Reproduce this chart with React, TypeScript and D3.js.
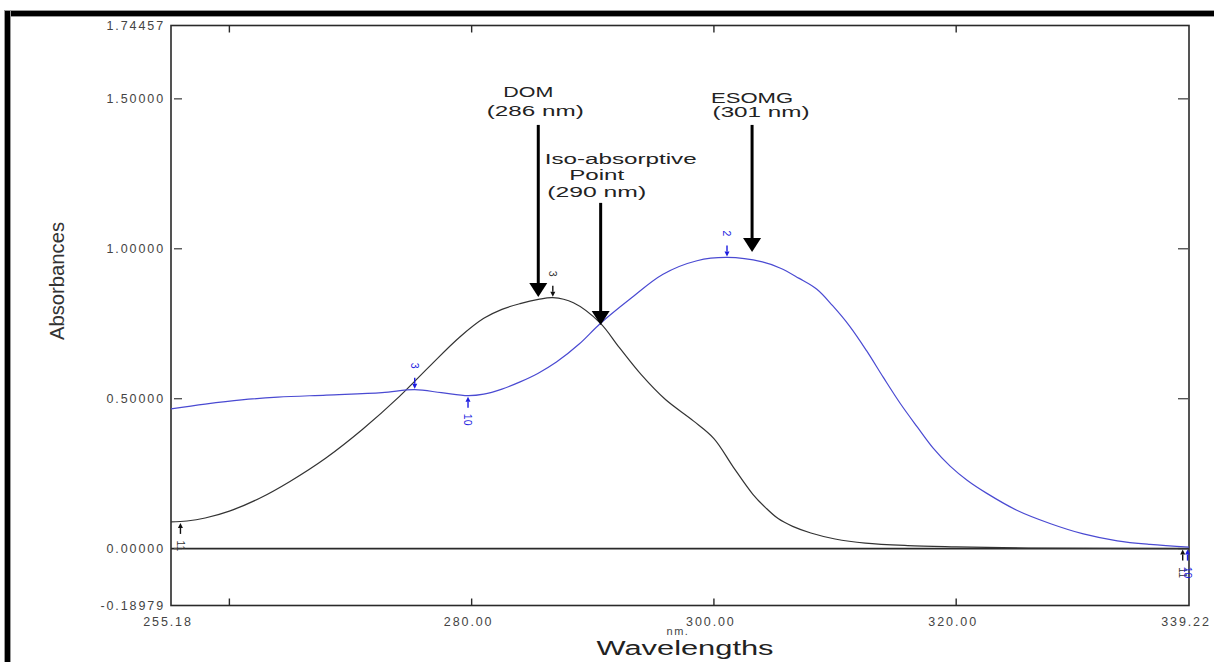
import React from "react";
import * as d3 from "d3";

const W = 1214;
const H = 662;

// DOM spectrum (black)
const domWl = [255.18, 256.5, 258, 260, 262.5, 265, 268, 271, 274, 276.5, 279, 281, 282.5, 284, 285.5, 286.7, 288.4, 290.6, 292.2, 294, 296, 298.3, 300, 301.6, 303.2, 304.3, 305.3, 306.5, 308, 310, 312.5, 316, 320, 326, 339.22];
const domAbs = [0.089, 0.092, 0.102, 0.125, 0.168, 0.224, 0.303, 0.398, 0.506, 0.607, 0.705, 0.768, 0.798, 0.817, 0.831, 0.837, 0.82, 0.753, 0.67, 0.58, 0.497, 0.426, 0.367, 0.272, 0.182, 0.135, 0.1, 0.074, 0.052, 0.032, 0.018, 0.01, 0.006, 0.002, 0.0];

// ESOMG spectrum (blue)
const esoWl = [255.18, 258, 261, 264, 268, 272.6, 275.3, 277.5, 279.7, 281, 282.5, 284, 285.5, 287, 288.9, 290.6, 293.1, 295.8, 298.6, 301.1, 304, 305.5, 307, 308.5, 309.8, 311.2, 312.6, 314, 315.4, 316.8, 318.1, 319.5, 320.9, 322.5, 325, 327.8, 330.5, 333.3, 336, 339.22];
const esoAbs = [0.466, 0.482, 0.496, 0.505, 0.512, 0.52, 0.53, 0.52, 0.51, 0.515, 0.532, 0.556, 0.585, 0.622, 0.683, 0.75, 0.833, 0.915, 0.96, 0.971, 0.956, 0.935, 0.902, 0.865, 0.81, 0.742, 0.66, 0.57, 0.483, 0.405, 0.335, 0.275, 0.228, 0.185, 0.128, 0.083, 0.049, 0.026, 0.014, 0.005];

// Axes
const xDomain = [255.18, 339.22];
const yDomain = [-0.18979, 1.74457];
const xTickValues = [260, 280, 300, 320];
const xLabelValues = [255.18, 280, 300, 320, 339.22];
const yTickValues = [0, 0.5, 1.0, 1.5];
const yLabelValues = [1.74457, 1.5, 1.0, 0.5, 0, -0.18979];

// Annotations (big arrows)
const annoWl = [285.5, 290.65, 303.15];
const annoTop = [1.413, 1.153, 1.413];
const annoTip = [0.839, 0.746, 0.989];
const annoLines = [["DOM", "(286 nm)"], ["Iso-absorptive", "Point", "(290 nm)"], ["ESOMG", "(301 nm)"]];

// Peak pick markers
const markWl = [286.7, 301.08, 275.3, 279.7, 255.96, 338.7, 339.1];
const markAbs = [0.837, 0.971, 0.53, 0.51, 0.089, 0.0, 0.0];
const markLabel = ["3", "2", "3", "10", "11", "11", "10"];
const markSeries = ["dom", "eso", "eso", "eso", "dom", "dom", "eso"];
const markDir = ["down", "down", "down", "up", "up", "up", "up"];

const ML = 171, MR = 1189, MT = 25.5, MB = 605.5;
const FONT = "'Liberation Sans', Arial, sans-serif";
const BLUE = "#4a4ad2";
const MARK_BLUE = "#1c1ce0";

export default function App() {
  const x = d3.scaleLinear().domain(xDomain).range([ML, MR]);
  const y = d3.scaleLinear().domain(yDomain).range([MB, MT]);

  const line = d3
    .line<[number, number]>()
    .x((d) => x(d[0]))
    .y((d) => y(d[1]))
    .curve(d3.curveCatmullRom.alpha(0.5));

  const domPath = line(domWl.map((w, i) => [w, domAbs[i]] as [number, number])) || "";
  const esoPath = line(esoWl.map((w, i) => [w, esoAbs[i]] as [number, number])) || "";

  // text layout per annotation (offsets relative to arrow top)
  const annoTextLayout = [
    [{ dx: -10, dy: -28, len: 50 }, { dx: -3, dy: -9, len: 97 }],
    [{ dx: 20, dy: -39, len: 152 }, { dx: -4, dy: -23, len: 55 }, { dx: -4, dy: -6, len: 99 }],
    [{ dx: 0, dy: -22, len: 82 }, { dx: 9, dy: -8, len: 97 }],
  ];

  return (
    <svg
      width={W}
      height={H}
      style={{ position: "absolute", left: 0, top: 0, background: "#fff" }}
      fontFamily={FONT}
    >
      <rect x={0} y={0} width={W} height={H} fill="#fff" />
      {/* outer heavy frame */}
      <rect x={4} y={10} width={W - 4} height={7} fill="#9a9a9a" />
      <rect x={5} y={11} width={W - 5} height={5} fill="#000" />
      <rect x={4} y={10} width={7} height={H - 10} fill="#9a9a9a" />
      <rect x={5} y={11} width={5} height={H - 11} fill="#000" />

      {/* plot frame */}
      <rect x={ML} y={MT} width={MR - ML} height={MB - MT} fill="none" stroke="#2a2a2a" strokeWidth={1.6} />
      {/* zero line */}
      <line x1={ML} x2={MR} y1={y(0)} y2={y(0)} stroke="#2a2a2a" strokeWidth={1.6} />

      {/* x ticks (inward, top and bottom) */}
      {xTickValues.map((t) => (
        <g key={"xt" + t} stroke="#2a2a2a" strokeWidth={1.4}>
          <line x1={x(t)} x2={x(t)} y1={MB} y2={MB - 7} />
          <line x1={x(t)} x2={x(t)} y1={MT} y2={MT + 7} />
        </g>
      ))}
      {/* y ticks (inward, left and right) */}
      {yTickValues.map((t) => (
        <g key={"yt" + t} stroke="#555" strokeWidth={1.4}>
          <line x1={ML + 3} x2={ML + 11} y1={y(t)} y2={y(t)} />
          <line x1={MR - 11} x2={MR - 1} y1={y(t)} y2={y(t)} />
        </g>
      ))}

      {/* y labels */}
      {yLabelValues.map((v) => (
        <text
          key={"yl" + v}
          x={ML - 6}
          y={y(v)}
          dy="0.35em"
          textAnchor="end"
          fontSize={12.5}
          letterSpacing={1.9}
          fill="#444"
        >
          {v.toFixed(5)}
        </text>
      ))}
      {/* x labels */}
      {xLabelValues.map((v) => (
        <text
          key={"xl" + v}
          x={x(v) - 3}
          y={MB + 20}
          textAnchor="middle"
          fontSize={12.5}
          letterSpacing={1.9}
          fill="#444"
        >
          {v.toFixed(2)}
        </text>
      ))}

      {/* axis titles */}
      <text
        transform={`translate(${64},${281}) rotate(-90)`}
        textAnchor="middle"
        fontSize={21}
        textLength={118}
        lengthAdjust="spacingAndGlyphs"
        fill="#333"
      >
        Absorbances
      </text>
      <text x={678} y={635} textAnchor="middle" fontSize={11} letterSpacing={1.5} fill="#444">
        nm.
      </text>
      <text
        x={685}
        y={655}
        textAnchor="middle"
        fontSize={20}
        textLength={177}
        lengthAdjust="spacingAndGlyphs"
        fill="#222"
      >
        Wavelengths
      </text>

      {/* spectra */}
      <path d={domPath} fill="none" stroke="#333" strokeWidth={1.2} />
      <path d={esoPath} fill="none" stroke={BLUE} strokeWidth={1.2} />

      {/* peak markers */}
      {markWl.map((w, i) => {
        const mx = x(w);
        const my = y(markAbs[i]);
        const col = markSeries[i] === "eso" ? MARK_BLUE : "#111";
        const down = markDir[i] === "down";
        const tail = down ? my - 12 : my + 12;
        const head = down ? my - 1 : my + 1;
        const hb = down ? head - 5 : head + 5;
        const ty = down ? my - 24 : my + 24;
        return (
          <g key={"m" + i}>
            <line x1={mx} x2={mx} y1={tail} y2={hb} stroke={col} strokeWidth={1.4} />
            <path d={`M${mx - 2.5},${hb} L${mx + 2.5},${hb} L${mx},${head} Z`} fill={col} />
            <text
              transform={`translate(${mx},${ty}) rotate(90)`}
              textAnchor="middle"
              dy="0.35em"
              fontSize={10.5}
              fill={markSeries[i] === "eso" ? MARK_BLUE : "#333"}
            >
              {markLabel[i]}
            </text>
          </g>
        );
      })}

      {/* annotation arrows */}
      {annoWl.map((w, i) => {
        const ax = x(w);
        const top = y(annoTop[i]);
        const tip = y(annoTip[i]);
        const hh = 14;
        return (
          <g key={"a" + i}>
            <line x1={ax} x2={ax} y1={top} y2={tip - hh + 1} stroke="#000" strokeWidth={3} />
            <path d={`M${ax - 9},${tip - hh} L${ax + 9},${tip - hh} L${ax},${tip} Z`} fill="#000" />
            {annoLines[i].map((txt, j) => {
              const L = annoTextLayout[i][j];
              return (
                <text
                  key={j}
                  x={ax + L.dx}
                  y={top + L.dy}
                  textAnchor="middle"
                  fontSize={14}
                  textLength={L.len}
                  lengthAdjust="spacingAndGlyphs"
                  fill="#222"
                >
                  {txt}
                </text>
              );
            })}
          </g>
        );
      })}
    </svg>
  );
}
